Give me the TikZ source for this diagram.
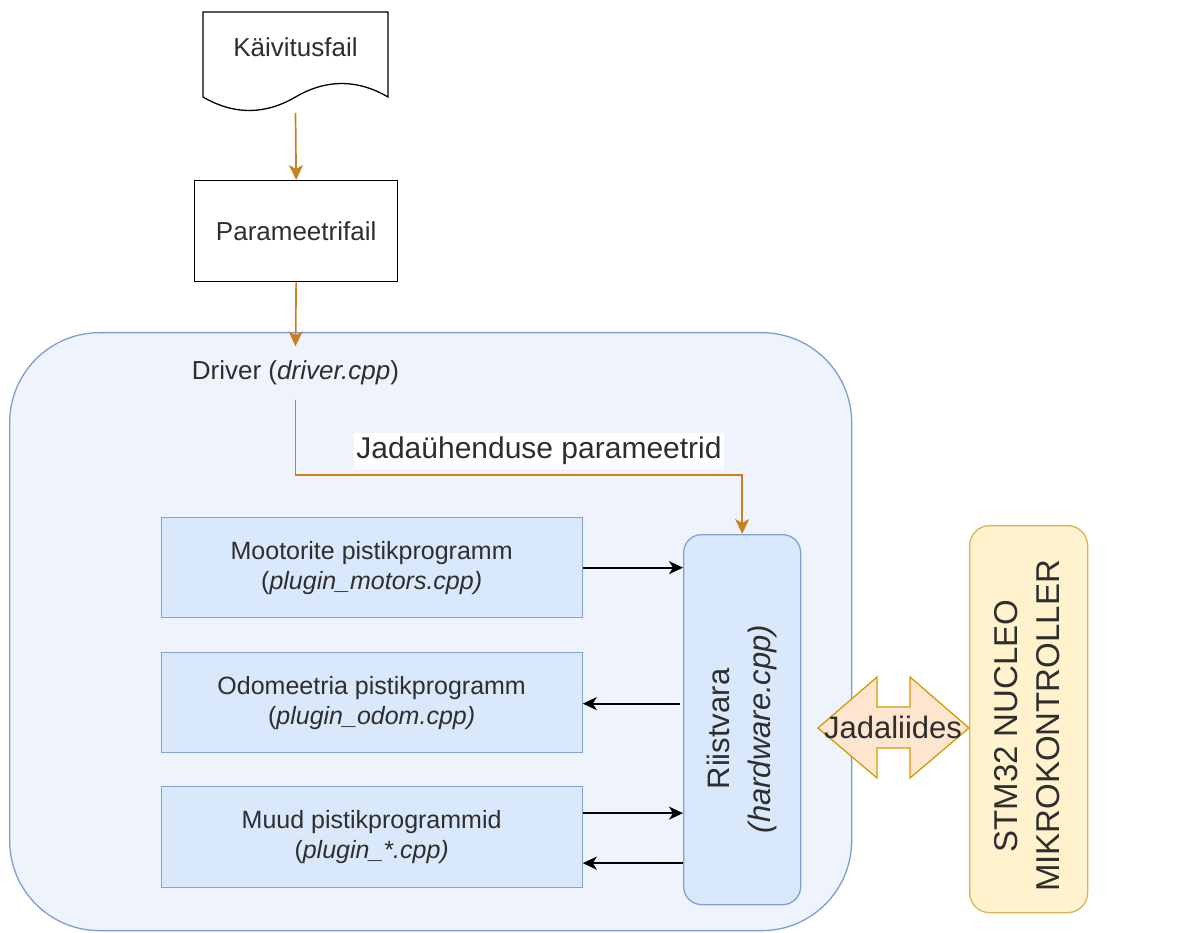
\documentclass[tikz,border=0pt]{standalone}
\usepackage{fontspec}
\setmainfont{Liberation Sans}
\usetikzlibrary{arrows.meta}
\definecolor{txt}{HTML}{2E2E2E}
\definecolor{sysfill}{HTML}{EFF3FB}
\definecolor{sysline}{HTML}{7C9FD1}
\definecolor{plugfill}{HTML}{DAE8FC}
\definecolor{plugline}{HTML}{7FA3D6}
\definecolor{flow}{HTML}{CC7F1F}
\definecolor{mcufill}{HTML}{FFF2CC}
\definecolor{mculine}{HTML}{D6B656}
\definecolor{busfill}{HTML}{FDE5CF}
\definecolor{busline}{HTML}{D79B00}
\tikzset{
  every node/.style={text=txt},
  plainbox/.style={draw=black, line width=1.3pt, fill=white, inner sep=0pt,
    minimum width=203pt, minimum height=101pt, anchor=north west,
    font=\fontsize{26}{31}\selectfont},
  plugbox/.style={draw=plugline, line width=1.3pt, fill=plugfill, inner sep=0pt,
    minimum width=421pt, minimum height=100pt, anchor=north west, align=center,
    font=\fontsize{25}{30}\selectfont},
  flowarrow/.style={draw=flow, line width=1.7pt,
    -{Stealth[length=15pt,width=14pt,inset=4pt]}},
  callarrow/.style={draw=black, line width=1.7pt,
    -{Stealth[length=14pt,width=13pt,inset=4pt]}},
  bigtext/.style={font=\fontsize{31}{41}\selectfont, align=center, inner sep=0pt}
}
\begin{document}
\begin{tikzpicture}[x=1pt,y=-1pt]
\useasboundingbox (0,0) rectangle (1178,933);

% ROS 2 control system container
\node[draw=sysline, line width=1.3pt, fill=sysfill, rounded corners=90pt,
      minimum width=842pt, minimum height=598pt, inner sep=0pt, anchor=north west]
      (sys) at (9,332) {};

% launch file (document shape)
\draw[black, line width=1.3pt, fill=white]
  (203,12) -- (388,12) -- (388,97)
  .. controls (357.2,79) and (326.3,79) .. (295.5,97)
  .. controls (264.7,115) and (233.8,115) .. (203,97) -- cycle;
\node[font=\fontsize{26}{31}\selectfont, inner sep=0pt] (kaiv) at (295.5,47) {Käivitusfail};
\coordinate (kaivout) at (295.5,113);

% parameter file
\node[plainbox] (param) at (194,180) {Parameetrifail};

% driver
\node[font=\fontsize{26}{31}\selectfont, inner sep=0pt, minimum height=53pt]
  (drv) at (295.5,373) {Driver (\textit{driver.cpp})};

\draw[flowarrow] (kaivout) -- (param.north);
\draw[flowarrow] (param.south) -- (drv.north);

% hardware interface
\node[draw=plugline, line width=1.3pt, fill=plugfill, rounded corners=18pt,
      minimum width=117pt, minimum height=370pt, inner sep=0pt, anchor=north west]
      (hw) at (683,534) {};
\node[bigtext, rotate=90] (hwtext) at (742,729) {Riistvara\\\textit{(hardware.cpp)}};

\draw[flowarrow] (drv.south) -- ++(0,75) -| (hw.north);
\node[fill=white, inner xsep=2pt, inner ysep=4pt,
      font=\fontsize{30}{36}\selectfont] (jparam) at (539,451) {Jadaühenduse parameetrid};

% plugins
\node[plugbox] (motors) at (160.5,517) {Mootorite pistikprogramm\\(\textit{plugin\_motors.cpp)}};
\node[plugbox] (odom) at (160.5,652) {Odomeetria pistikprogramm\\(\textit{plugin\_odom.cpp)}};
\node[plugbox, minimum height=101pt] (muud) at (160.5,786) {Muud pistikprogrammid\\(\textit{plugin\_*.cpp)}};

\draw[callarrow] (motors.east) -- (motors.east -| hw.west);
\path ([yshift=-1pt]odom.east) coordinate (o1);
\draw[callarrow] ([xshift=-3pt]o1 -| hw.west) -- (o1);
\path ([yshift=24pt]muud.east) coordinate (m1);
\path ([yshift=-26pt]muud.east) coordinate (m2);
\draw[callarrow] (m1) -- (m1 -| hw.west);
\draw[callarrow] (m2 -| hw.west) -- (m2);

% serial link
\draw[draw=busline, line width=1.3pt, fill=busfill, line join=miter]
  (818,728) -- (877,677) -- (877,707) -- (910,707) -- (910,677) -- (969,728)
  -- (910,778) -- (910,748) -- (877,748) -- (877,778) -- cycle;
\node[font=\fontsize{31}{37}\selectfont, inner sep=0pt] (jl) at (893,727) {Jadaliides};

% microcontroller
\node[draw=mculine, line width=1.3pt, fill=mcufill, rounded corners=20pt,
      minimum width=118pt, minimum height=387pt, inner sep=0pt, anchor=north west]
      (mcu) at (969,525) {};
\node[font=\fontsize{33}{42}\selectfont, align=center, inner sep=0pt, rotate=90]
  (mcutext) at (1027.5,726) {STM32 NUCLEO\\MIKROKONTROLLER};
\end{tikzpicture}
\end{document}
